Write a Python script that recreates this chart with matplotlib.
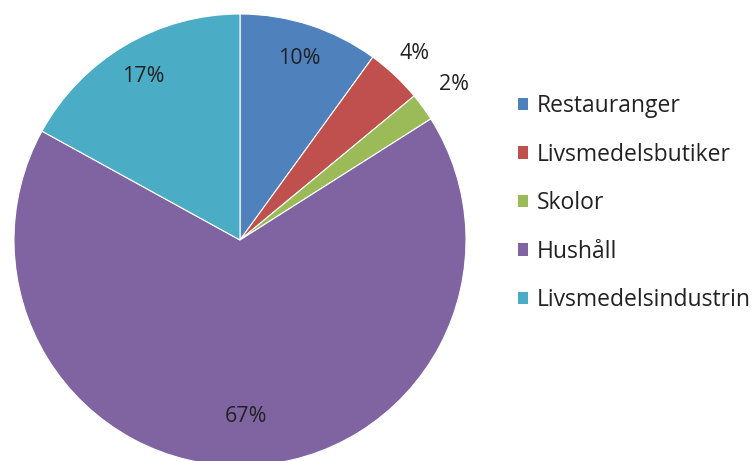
import numpy as np
import matplotlib.pyplot as plt
from matplotlib.patches import Patch

plt.rcParams['font.family'] = ['Open Sans', 'DejaVu Sans']

# ── Data ──────────────────────────────────────────────────────
categories = ['Restauranger', 'Livsmedelsbutiker', 'Skolor', 'Hushåll',
              'Livsmedelsindustrin']
shares = [10, 4, 2, 67, 17]
colors = ['#4F81BD', '#C0504D', '#9BBB59', '#8064A2', '#4BACC6']
label_dist = [0.845, 1.13, 1.17, 0.78, 0.84]

W, H = 753, 461
cx, cy, r = 240, 240, 226

fig = plt.figure(figsize=(W / 100, H / 100), dpi=100)
ax = fig.add_axes([0, 0, 1, 1])

wedges, _, autotexts = ax.pie(
    shares, colors=colors, startangle=90, counterclock=False, radius=1,
    autopct='%d%%', pctdistance=0.84,
    wedgeprops=dict(linewidth=0.8, edgecolor='white'),
    textprops=dict(fontsize=15.5, color='#222222'))

ax.set_aspect('auto')
ax.set_xlim(-cx / r, (W - cx) / r)
ax.set_ylim(-(H - cy) / r, cy / r)
ax.axis('off')

# place percentage labels like the original (small slices outside)
for w, t, d in zip(wedges, autotexts, label_dist):
    mid = np.deg2rad((w.theta1 + w.theta2) / 2)
    t.set_position((d * np.cos(mid), d * np.sin(mid)))

handles = [Patch(facecolor=c, edgecolor='none') for c in colors]
ax.legend(handles, categories, loc='upper left',
          bbox_to_anchor=(509 / W, 1 - 85 / H), bbox_transform=fig.transFigure,
          frameon=False, fontsize=16.5, handlelength=0.45, handleheight=0.45,
          handletextpad=0.35, labelspacing=1.07, borderaxespad=0,
          labelcolor='#222222')

fig.savefig('out.png', dpi=100)
